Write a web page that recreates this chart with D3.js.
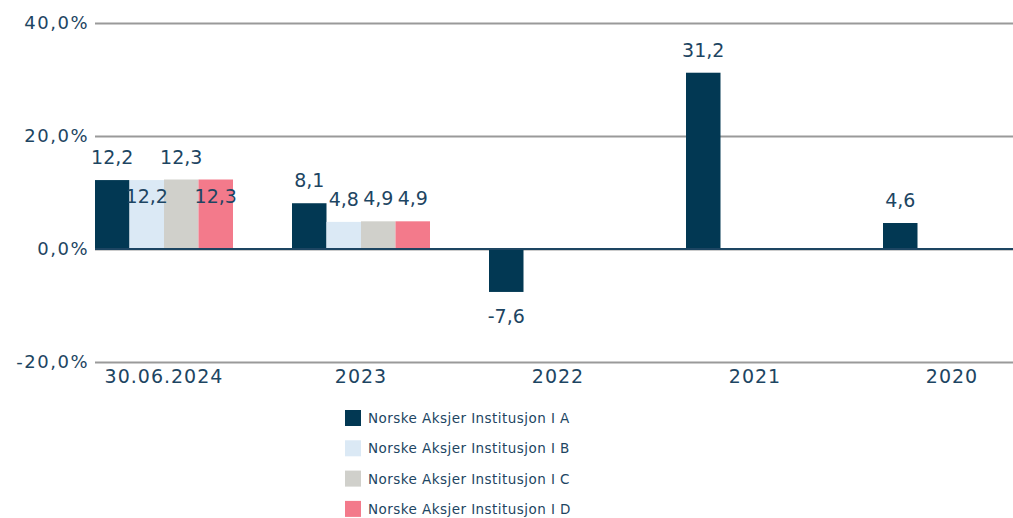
<!DOCTYPE html>
<html lang='en'>
  <head>
    <meta charset='utf-8'>
    <style type='text/css'>
      body {margin: 0; background-color: #fff;}
      svg text {font-family: "DejaVu Sans", sans-serif; fill: #1d4562;}
    </style>
  </head>
  <body>
    <svg id='chart' width='1013' height='518'></svg>

    <script src='https://d3js.org/d3.v7.min.js'></script>
    <script type='text/javascript'>
        // categories and series
        var categories = ["30.06.2024", "2023", "2022", "2021", "2020"];
        var seriesNames = ["Norske Aksjer Institusjon I A", "Norske Aksjer Institusjon I B",
                           "Norske Aksjer Institusjon I C", "Norske Aksjer Institusjon I D"];
        var valuesA = [12.2, 8.1, -7.6, 31.2, 4.6];
        var valuesB = [12.2, 4.8, null, null, null];
        var valuesC = [12.3, 4.9, null, null, null];
        var valuesD = [12.3, 4.9, null, null, null];
        var yTicks = [-20, 0, 20, 40];
        var colors = ["#023853", "#dbe9f5", "#d0d0cb", "#f37a8b"];

        var allValues = [valuesA, valuesB, valuesC, valuesD];

        var svg = d3.select("#chart");
        var m = {left: 95, right: 1013, top: 23, bottom: 362};
        var bandStep = 197;

        // y scale
        var y = d3.scaleLinear().domain([-20, 40]).range([m.bottom, m.top]);

        // x scales: group band (last group runs off the right edge like the original)
        var x = d3.scaleBand().domain(categories)
            .range([m.left, m.left + bandStep * categories.length]).padding(0);
        var xs = d3.scaleBand().domain(d3.range(4)).range([0, 138]).padding(0);

        var fmt = function(v) { return d3.format(".1f")(v).replace(".", ",").replace("\u2212", "-"); };
        var fmtPct = function(v) { return fmt(v) + "%"; };

        // gridlines
        var yAxis = svg.append("g")
            .attr("transform", "translate(" + m.left + ",0)")
            .call(d3.axisLeft(y).tickValues(yTicks).tickSize(-(m.right - m.left)).tickFormat(fmtPct));
        yAxis.select(".domain").remove();
        yAxis.selectAll(".tick line").attr("stroke", "#9a9a9a").attr("stroke-width", 2);
        yAxis.selectAll(".tick text").attr("x", -6).attr("font-size", 18)
            .attr("letter-spacing", 1.5)
            .attr("font-family", "DejaVu Sans").attr("fill", "#1d4562");

        // flatten data
        var bars = [];
        categories.forEach(function(c, i) {
            allValues.forEach(function(vals, s) {
                if (vals[i] !== null) bars.push({cat: c, s: s, v: vals[i]});
            });
        });

        svg.append("g").selectAll("rect")
          .data(bars)
          .enter().append("rect")
            .attr("x", function(d) { return x(d.cat) + xs(d.s); })
            .attr("y", function(d) { return y(Math.max(0, d.v)); })
            .attr("width", xs.bandwidth())
            .attr("height", function(d) { return Math.abs(y(d.v) - y(0)); })
            .attr("fill", function(d) { return colors[d.s]; });

        // zero line
        svg.append("line")
            .attr("x1", m.left).attr("x2", m.right)
            .attr("y1", y(0)).attr("y2", y(0))
            .attr("stroke", "#1d4562").attr("stroke-width", 2);

        // value labels, shifted down when they collide with the previous one
        var labels = svg.append("g");
        var prev = null;
        bars.forEach(function(d) {
            var cx = x(d.cat) + xs(d.s) + xs.bandwidth() / 2;
            var w = fmt(d.v).length * 10.5;
            var by = d.v >= 0 ? y(d.v) - 16 : y(d.v) + 31;
            var shifted = false;
            if (prev && prev.cat === d.cat && !prev.shifted && d.v >= 0 &&
                cx - w / 2 < prev.cx + prev.w / 2 - 6 && Math.abs(by - prev.by) < 14) {
                by = y(d.v) + 23;
                shifted = true;
            }
            labels.append("text")
                .attr("x", cx).attr("y", by)
                .attr("text-anchor", "middle")
                .attr("font-size", 19)
                .text(fmt(d.v));
            prev = {cat: d.cat, cx: cx, w: w, by: by, shifted: shifted};
        });

        // category labels
        svg.append("g").selectAll("text")
          .data(categories)
          .enter().append("text")
            .attr("x", function(d) { return x(d) + 69; })
            .attr("y", 383)
            .attr("text-anchor", "middle")
            .attr("font-size", 19)
            .attr("letter-spacing", 1)
            .text(function(d) { return d; });

        // legend
        var legend = svg.append("g").attr("transform", "translate(345,410)");
        var item = legend.selectAll("g")
          .data(seriesNames)
          .enter().append("g")
            .attr("transform", function(d, i) { return "translate(0," + (i * 30.3) + ")"; });
        item.append("rect")
            .attr("width", 16).attr("height", 16)
            .attr("fill", function(d, i) { return colors[i]; });
        item.append("text")
            .attr("x", 23).attr("y", 13)
            .attr("font-size", 13.5)
            .attr("letter-spacing", 0.45)
            .text(function(d) { return d; });
    </script>
  </body>
</html>
